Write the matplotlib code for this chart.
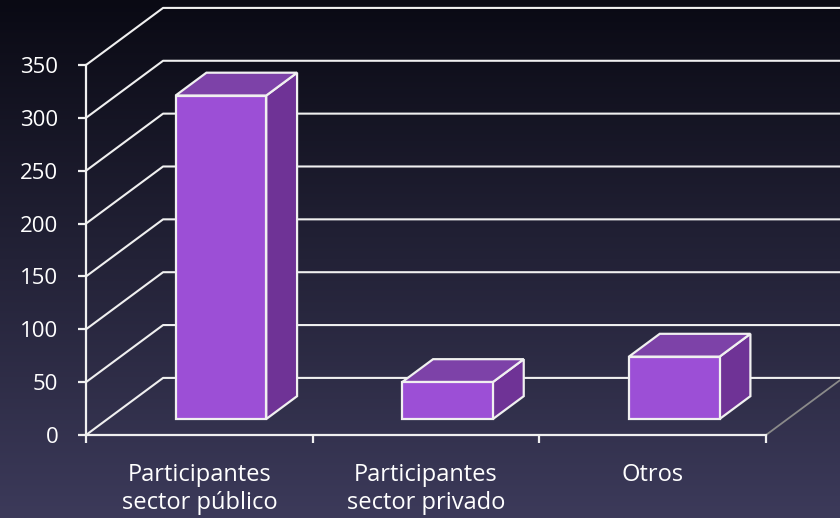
import numpy as np
import matplotlib.pyplot as plt
from matplotlib.patches import Polygon

# Data
categories = ['Participantes\nsector público', 'Participantes\nsector privado', 'Otros']
values = [306, 35, 59]
y_ticks = [0, 50, 100, 150, 200, 250, 300, 350]

# 3D look (in data units)
depth_x = 0.34
depth_y = 54
bar_front = 0.28   # fraction of depth where bar front face sits
bar_depth = 0.40   # fraction of depth taken by the bar
bar_width = 0.40

face_color = '#9c4fd6'
top_color = '#7d42a8'
side_color = '#6f3396'
line_color = '#f0f0f0'

fig = plt.figure(figsize=(8.4, 5.18), dpi=100)

# Background gradient
bg = fig.add_axes([0, 0, 1, 1], zorder=0)
top = np.array([10, 10, 20]) / 255
bottom = np.array([60, 58, 90]) / 255
t = np.linspace(0, 1, 256)[:, None]
grad = top + (bottom - top) * t
bg.imshow(np.repeat(grad[:, None, :], 2, axis=1), aspect='auto', extent=[0, 1, 0, 1])
bg.axis('off')

ax = fig.add_axes([86 / 840, 83 / 518, 680 / 840, 370 / 518], zorder=1)
ax.set_facecolor('none')
ax.set_xlim(0, len(categories))
ax.set_ylim(0, 350)

# Walls: left diagonals and back gridlines
for v in y_ticks:
    ax.plot([0, depth_x, len(categories) + depth_x + 0.5], [v, v + depth_y, v + depth_y],
            color=line_color, lw=1.5, clip_on=False, zorder=1)

# Right floor edge
ax.plot([len(categories), len(categories) + depth_x], [0, depth_y],
        color='#8a8a8a', lw=1.3, clip_on=False, zorder=1)

# Bars
for i, v in enumerate(values):
    x0 = i + 0.5 - bar_width / 2 + bar_front * depth_x
    y0 = bar_front * depth_y
    x1 = x0 + bar_width
    y1 = y0 + v
    bx = bar_depth * depth_x
    by = bar_depth * depth_y
    front = Polygon([(x0, y0), (x1, y0), (x1, y1), (x0, y1)], closed=True,
                    facecolor=face_color, edgecolor=line_color, lw=1.6, zorder=3,
                    clip_on=False)
    topf = Polygon([(x0, y1), (x1, y1), (x1 + bx, y1 + by), (x0 + bx, y1 + by)], closed=True,
                   facecolor=top_color, edgecolor=line_color, lw=1.6, zorder=3,
                   clip_on=False)
    side = Polygon([(x1, y0), (x1 + bx, y0 + by), (x1 + bx, y1 + by), (x1, y1)], closed=True,
                   facecolor=side_color, edgecolor=line_color, lw=1.6, zorder=3,
                   clip_on=False)
    ax.add_patch(side)
    ax.add_patch(topf)
    ax.add_patch(front)

# Axes styling
for s in ['top', 'right']:
    ax.spines[s].set_visible(False)
for s in ['left', 'bottom']:
    ax.spines[s].set_color(line_color)
    ax.spines[s].set_linewidth(1.6)
    ax.spines[s].set_zorder(4)

ax.set_yticks(y_ticks)
ax.tick_params(axis='y', colors=line_color, length=6, width=1.6, pad=14,
               labelsize=16, labelcolor='white')
ax.set_xticks(np.arange(len(categories)) + 0.5)
ax.set_xticklabels(categories, fontsize=17, color='white', linespacing=1.25)
ax.set_xticks(np.arange(len(categories) + 1), minor=True)
ax.tick_params(axis='x', which='major', length=0, pad=20)
ax.tick_params(axis='x', which='minor', colors=line_color, length=6, width=1.6)
for lab in ax.get_xticklabels() + ax.get_yticklabels():
    lab.set_family(['Open Sans', 'DejaVu Sans'])

fig.savefig('out.png', dpi=100)
